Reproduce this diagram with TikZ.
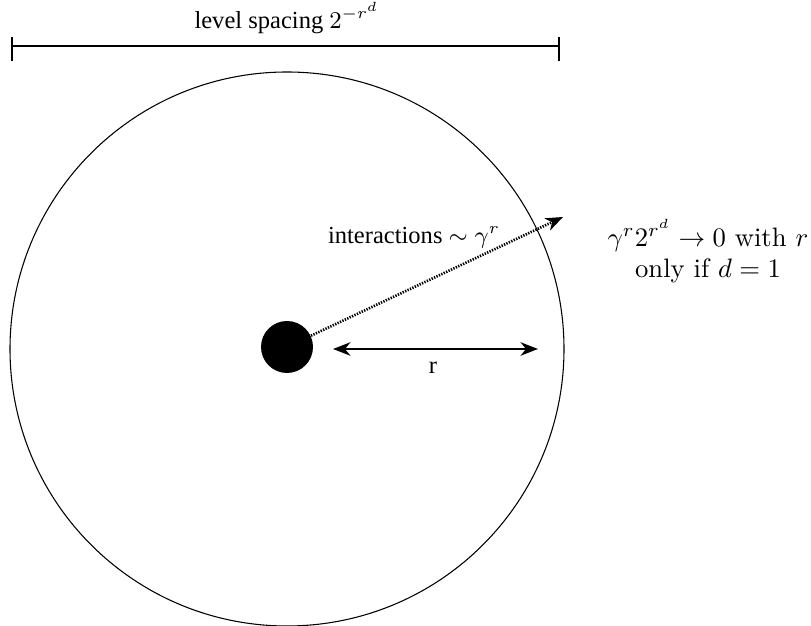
\documentclass[tikz,border=0pt]{standalone}
\usepackage{fontspec}
\usepackage{amsmath}
\newfontfamily\timesfont{Liberation Serif}
\usetikzlibrary{arrows.meta, positioning}

\begin{document}
\begin{tikzpicture}[
    x=0.375pt, y=-0.375pt,
    label/.style={font=\timesfont\fontsize{9.2}{11}\selectfont, inner sep=1pt},
    note/.style={font=\fontsize{10}{11.5}\selectfont, align=center, inner sep=1pt},
    tip/.style={Stealth[length=6.5pt,width=5pt,inset=2pt]},
    arrow/.style={{Stealth[length=6.5pt,width=5pt,inset=2pt]}-{Stealth[length=6.5pt,width=5pt,inset=2pt]}, line width=1pt},
    ray/.style={-{Stealth[length=6.5pt,width=5pt,inset=2pt]}, dash pattern=on 0.5pt off 0.5pt, line width=1pt},
    bar/.style={line width=1.1pt},
]
\useasboundingbox (0,0) rectangle (811,626);

% Level spacing bar
\coordinate (barL) at (12,46);
\coordinate (barR) at (559,46);
\draw[bar] (barL) -- (barR);
\draw[bar] (12,37) -- (12,61);
\draw[bar] (559,37) -- (559,61);
\node[label] (spacing) at (287,18) {level spacing $2^{-r^d}$};

% Region and particle
\node[draw, circle, minimum size=554*0.375pt, inner sep=0pt] (region) at (287,349) {};
\node[fill, circle, minimum size=52*0.375pt, inner sep=0pt] (dot) at (287,347) {};

% Interactions
\coordinate (rayEnd) at (563,217);
\draw[ray] (dot) -- (rayEnd);
\node[label] (inter) at (414,237) {interactions $\sim\gamma^r$};

% Radius
\coordinate (radL) at (333,349);
\coordinate (radR) at (538,349);
\draw[arrow] (radL) -- (radR);
\node[label] (rlabel) at (433,368) {r};

% Scaling note
\node[note] (cond) at (708,251) {$\gamma^r 2^{r^d}\to 0$ with $r$\\only if $d=1$};

\end{tikzpicture}
\end{document}
